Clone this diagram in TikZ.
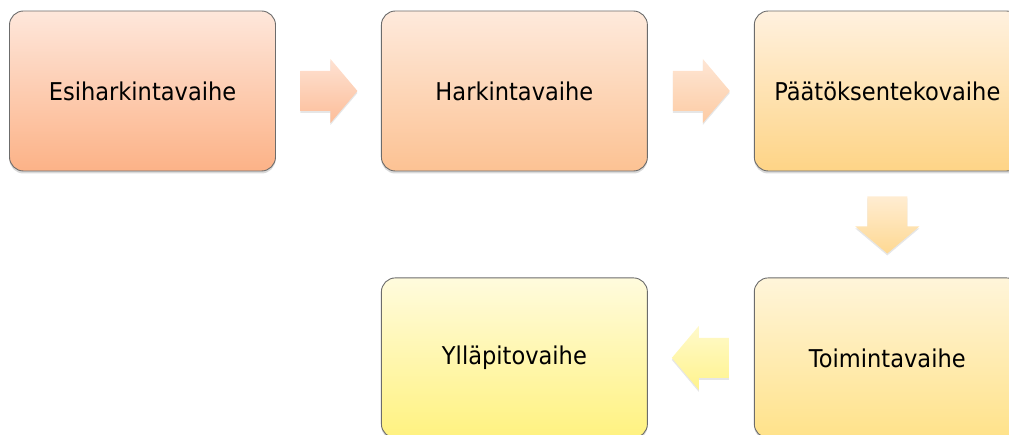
\documentclass[tikz,border=0pt]{standalone}
\usepackage{fontspec}
\setmainfont{DejaVu Sans}[FakeStretch=0.92]
\usepackage{tikz}
\usetikzlibrary{positioning,calc,shadows}

\definecolor{esitop}{HTML}{FEE7DB}
\definecolor{esibot}{HTML}{FCB287}
\definecolor{harktop}{HTML}{FEEADC}
\definecolor{harkbot}{HTML}{FCC293}
\definecolor{paattop}{HTML}{FFF1DF}
\definecolor{paatbot}{HTML}{FED486}
\definecolor{toimtop}{HTML}{FFF5DA}
\definecolor{toimbot}{HTML}{FFE28A}
\definecolor{yllatop}{HTML}{FFFBDD}
\definecolor{yllabot}{HTML}{FFF280}

\begin{document}
\begin{tikzpicture}[x=1pt,y=-1pt,
  vaihe/.style={draw=gray!85!black, line width=0.9pt, rounded corners=14pt,
    minimum width=266pt, minimum height=160pt, inner sep=0pt,
    font=\fontsize{24.5}{29}\selectfont,
    drop shadow={shadow xshift=0pt, shadow yshift=-2.5pt, opacity=0.3}},
  nuoli/.style={drop shadow={shadow xshift=0pt, shadow yshift=-2pt, opacity=0.2}}]
\useasboundingbox (0,0) rectangle (1009,435);
\clip (0,0) rectangle (1009,435);

% vaiheet
\node[vaihe, top color=esitop, bottom color=esibot] (esi) at (142.5,91) {Esiharkintavaihe};
\node[vaihe, top color=harktop, bottom color=harkbot, right=105pt of esi] (hark) {Harkintavaihe};
\node[vaihe, top color=paattop, bottom color=paatbot, right=106pt of hark] (paat) {Päätöksentekovaihe};
\node[vaihe, top color=toimtop, bottom color=toimbot, below=106pt of paat] (toim) {Toimintavaihe};
\node[vaihe, top color=yllatop, bottom color=yllabot, left=106pt of toim] (yllap) {Ylläpitovaihe};

% nuolet
\coordinate (n1) at ($(esi.east)!0.5!(hark.west)$);
\coordinate (n2) at ($(hark.east)!0.5!(paat.west)$);
\coordinate (n3) at ($(paat.south)!0.5!(toim.north)$);
\coordinate (n4) at ($(toim.west)!0.5!(yllap.east)$);

\shade[nuoli, top color=esitop!90!esibot, bottom color=esibot!85!white]
  (n1) ++(-28,-20) -- ++(30,0) -- ++(0,-12) -- ++(27,32) -- ++(-27,32) -- ++(0,-12) -- ++(-30,0) -- cycle;
\shade[nuoli, top color=harktop!90!harkbot, bottom color=harkbot!85!white]
  (n2) ++(-28,-20) -- ++(30,0) -- ++(0,-12) -- ++(27,32) -- ++(-27,32) -- ++(0,-12) -- ++(-30,0) -- cycle;
\shade[nuoli, top color=paattop!85!paatbot, bottom color=paatbot!90!white]
  (n3) ++(-20,-28) -- ++(0,30) -- ++(-12,0) -- ++(32,27) -- ++(32,-27) -- ++(-12,0) -- ++(0,-30) -- cycle;
\shade[nuoli, top color=yllatop!80!yllabot, bottom color=yllabot!90!white]
  (n4) ++(28,-20) -- ++(-30,0) -- ++(0,-12) -- ++(-27,32) -- ++(27,32) -- ++(0,-12) -- ++(30,0) -- cycle;
\end{tikzpicture}
\end{document}
